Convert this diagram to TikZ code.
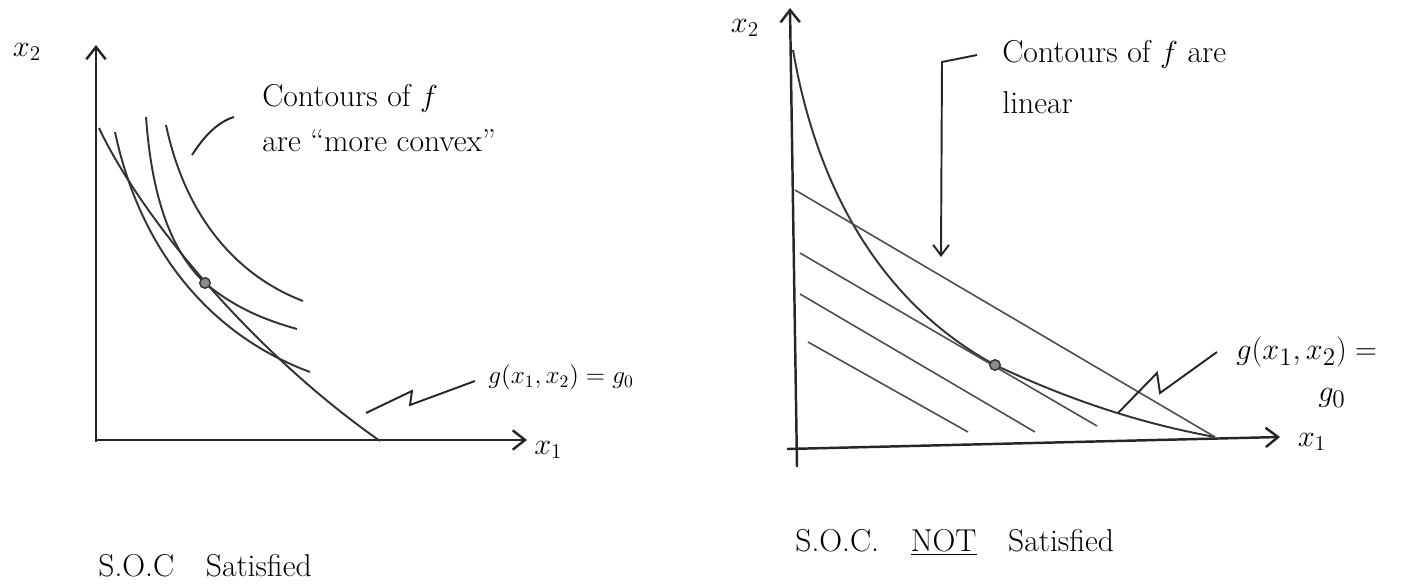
\documentclass[tikz,border=0pt]{standalone}
\usepackage{fontspec}
\usetikzlibrary{arrows.meta}

\tikzset{
  axis/.style={line width=1.4pt, black!85, -{Straight Barb[length=7pt,width=11pt]}},
  contour/.style={line width=1.1pt, black!80},
  linecontour/.style={line width=0.9pt, black!70},
  leader/.style={line width=1.1pt, black!85},
  lbl/.style={font=\fontsize{18}{25.5}\selectfont, inner sep=0pt},
  optdot/.style={circle, fill=black!45, draw=black!80, line width=0.8pt, minimum size=6pt, inner sep=0pt},
}

\begin{document}
\begin{tikzpicture}[x=0.02cm, y=-0.02cm]
\useasboundingbox (0,0) rectangle (1424,588);

% left: s.o.c. satisfied
\draw[axis] (96,442) -- (96,45);
\draw[axis] (96,440) -- (527,440);
\node[lbl] (xtwoL) at (27,52) {$x_2$};
\node[lbl, anchor=west] (xoneL) at (534,450) {$x_1$};

% constraint
\draw[contour] (99,128) .. controls (140,215) and (250,350) .. (380,441);
% contours of f
\draw[contour] (115,132) .. controls (140,250) and (210,335) .. (310,372);
\draw[contour] (146,117) .. controls (152,200) and (172,252) .. (205,283)
  .. controls (235,308) and (265,320) .. (297,329);
\draw[contour] (166,125) .. controls (185,215) and (235,275) .. (303,301);
\node[optdot] (tanL) at (205,283) {};

\coordinate (leadLa) at (192,155);
\coordinate (leadLb) at (234,117);
\draw[leader] (leadLa) .. controls (205,135) and (218,122) .. (leadLb);
\node[lbl, anchor=north west, align=left] (contL) at (262,84) {Contours of $f$\\are ``more convex''};

\draw[leader] (366,413) -- (412,391) -- (410,405) -- (475,381);
\node[lbl, anchor=west, font=\fontsize{14}{17}\selectfont] (gL) at (488,377) {$g(x_1,x_2)=g_0$};

\node[lbl, anchor=base west] (socL) at (98,576) {S.O.C\quad Satisfied};

% right: s.o.c. not satisfied
\draw[axis] (797,467) -- (790,8);
\draw[axis] (787,449) -- (1280,437);
\node[lbl] (xtwoR) at (745,28) {$x_2$};
\node[lbl] (xoneR) at (1312,442) {$x_1$};

% constraint
\draw[contour] (793,50) .. controls (818,195) and (885,305) .. (995,365)
  .. controls (1080,405) and (1150,425) .. (1215,437);
% linear contours of f
\draw[linecontour] (795,190) -- (1215,437);
\draw[linecontour] (800,253) -- (1097,426);
\draw[linecontour] (800,294) -- (1035,432);
\draw[linecontour] (808,342) -- (968,432);
\node[optdot] (tanR) at (995,365) {};

\coordinate (leadRa) at (977,55);
\coordinate (leadRb) at (942,62);
\coordinate (leadRc) at (941,257);
\draw[leader, -{Straight Barb[length=6pt,width=9pt]}] (leadRa) -- (leadRb) -- (leadRc);
\node[lbl, anchor=north west, align=left, font=\fontsize{18}{29}\selectfont] (contR) at (1002,40) {Contours of $f$ are\\linear};

\draw[leader] (1118,413) -- (1157,373) -- (1160,393) -- (1217,352);
\node[lbl, anchor=west, font=\fontsize{19}{23}\selectfont] (gR) at (1236,352) {$g(x_1,x_2)=$};
\node[lbl, font=\fontsize{19}{23}\selectfont] (gzeroR) at (1332,398) {$g_0$};

\node[lbl, anchor=base west] (socR) at (795,551) {S.O.C.\quad\underline{NOT}\quad Satisfied};
\end{tikzpicture}
\end{document}
